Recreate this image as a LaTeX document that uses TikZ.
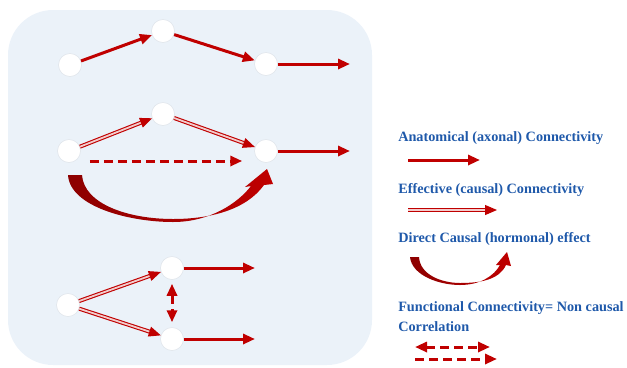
\documentclass[tikz,border=0pt]{standalone}
\usepackage{fontspec}
\setmainfont{Liberation Serif}
\usetikzlibrary{arrows.meta}
\definecolor{panelArea}{RGB}{235,242,249}
\definecolor{circleRim}{RGB}{222,227,233}
\definecolor{arrowRed}{RGB}{192,0,0}
\definecolor{darkRed}{RGB}{140,0,0}
\definecolor{labelBlue}{RGB}{31,89,170}
\tikzset{
    every picture/.style={
        line width=0.2mm
    },
    % Style for the round units
    neuron/.style={
        circle, fill=white, draw=circleRim, line width=0.5bp,
        minimum size=23bp, inner sep=0pt
    },
    % Styles for the three kinds of links
    axon link/.style={
        draw=arrowRed, line width=3bp,
        -{Triangle[length=12bp,width=10bp]}
    },
    causal link/.style={
        draw=arrowRed, double=white!80!arrowRed, double distance=1.8bp,
        line width=1.1bp, -{Triangle[length=12bp,width=10bp]}
    },
    corr link/.style={
        draw=arrowRed, line width=3bp, dash pattern=on 9bp off 5bp,
        -{Triangle[length=12bp,width=10bp]}
    },
    both tips/.style={
        {Triangle[length=12bp,width=10bp]}-{Triangle[length=12bp,width=10bp]}
    },
    % Style for the legend texts
    legend label/.style={
        font=\bfseries\fontsize{14.3}{16}\selectfont, text=labelBlue,
        anchor=west, inner sep=0pt
    }
}

\begin{document}
\begin{tikzpicture}[x=1bp,y=-1bp]

% Set the canvas size
\path[use as bounding box] (0,0) rectangle (627,367);

% Background panel
\fill[panelArea, rounded corners=45bp] (8,10) rectangle (372,365);

% Anatomical chain
\node[neuron] (a1) at (70,65) {};
\node[neuron] (b1) at (163,31) {};
\node[neuron] (c1) at (266,64) {};
\coordinate (o1) at (350,64);
\draw[axon link] (a1) -- (b1);
\draw[axon link] (b1) -- (c1);
\draw[axon link] (c1) -- (o1);

% Effective chain
\node[neuron] (a2) at (69,151) {};
\node[neuron] (b2) at (163,114) {};
\node[neuron] (c2) at (266,151) {};
\coordinate (o2) at (350,151);
\draw[causal link] (a2) -- (b2);
\draw[causal link] (b2) -- (c2);
\draw[axon link] (c2) -- (o2);
\draw[corr link] ([shift={(9,10)}]a2.east) -- ([shift={(-12,10)}]c2.west);

% Hormonal effect
\shade[left color=darkRed, right color=arrowRed]
  (68,175) .. controls (70,207) and (130,222) .. (173,222)
  .. controls (210,222) and (238,203) .. (251,186)
  -- (245,187) -- (267,169) -- (273,184) -- (264,185)
  .. controls (246,210) and (210,219) .. (173,219)
  .. controls (128,219) and (84,204) .. (82,175) -- cycle;

% Divergent chain
\node[neuron] (a3) at (68,305) {};
\node[neuron] (b3) at (172,268) {};
\node[neuron] (c3) at (172,339) {};
\coordinate (o3) at (255,268);
\coordinate (o4) at (255,339);
\draw[causal link] (a3) -- (b3);
\draw[causal link] (a3) -- (c3);
\draw[axon link] (b3) -- (o3);
\draw[axon link] (c3) -- (o4);
\draw[corr link, both tips, shorten <=4bp, shorten >=5bp] (b3) -- (c3);

% Legend
\node[legend label] (t1) at (398,138) {Anatomical (axonal) Connectivity};
\coordinate (l1s) at (408,160);
\coordinate (l1e) at (480,160);
\draw[axon link] (l1s) -- (l1e);

\node[legend label] (t2) at (398,190) {Effective (causal) Connectivity};
\coordinate (l2s) at (408,210);
\coordinate (l2e) at (497,210);
\draw[causal link] (l2s) -- (l2e);

\node[legend label] (t3) at (398,239) {Direct Causal (hormonal) effect};
\shade[left color=darkRed, right color=arrowRed]
  (410,257) .. controls (412,276) and (440,285) .. (460,285)
  .. controls (480,285) and (494,276) .. (500,265)
  -- (496,265) -- (507,252) -- (511,266) -- (506,265)
  .. controls (499,280) and (480,283) .. (460,283)
  .. controls (442,283) and (420,275) .. (419,257) -- cycle;

\node[legend label] (t4) at (398,308) {Functional Connectivity= Non causal};
\node[legend label] (t5) at (398,327) {Correlation};
\coordinate (l4s) at (415,347);
\coordinate (l4e) at (490,347);
\coordinate (l5s) at (415,359);
\coordinate (l5e) at (497,359);
\draw[corr link, both tips] (l4s) -- (l4e);
\draw[corr link] (l5s) -- (l5e);

\end{tikzpicture}
\end{document}
